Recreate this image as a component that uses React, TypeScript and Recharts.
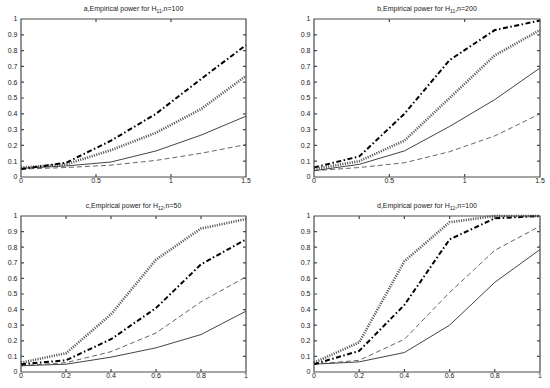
import type { FC } from 'react'
import { LineChart, Line, XAxis, YAxis } from 'recharts'

// x grids
const xWide = [0, 0.3, 0.6, 0.9, 1.2, 1.5]
const xNarrow = [0, 0.2, 0.4, 0.6, 0.8, 1]
const wideTicks = [0, 0.5, 1, 1.5]
const narrowTicks = [0, 0.2, 0.4, 0.6, 0.8, 1]
const yTicks = [0, 0.1, 0.2, 0.3, 0.4, 0.5, 0.6, 0.7, 0.8, 0.9, 1]

// a: H11, n=100
const aDashDot = [0.05, 0.09, 0.23, 0.4, 0.62, 0.835]
const aDotted = [0.06, 0.08, 0.17, 0.28, 0.43, 0.64]
const aSolid = [0.055, 0.07, 0.095, 0.165, 0.265, 0.385]
const aDashed = [0.05, 0.06, 0.075, 0.105, 0.15, 0.205]

// b: H11, n=200
const bDashDot = [0.06, 0.13, 0.4, 0.74, 0.93, 0.99]
const bDotted = [0.05, 0.1, 0.23, 0.5, 0.77, 0.93]
const bSolid = [0.04, 0.08, 0.165, 0.32, 0.49, 0.69]
const bDashed = [0.04, 0.06, 0.09, 0.16, 0.26, 0.4]

// c: H12, n=50
const cDashDot = [0.05, 0.075, 0.21, 0.41, 0.69, 0.85]
const cDotted = [0.06, 0.12, 0.37, 0.72, 0.92, 0.98]
const cSolid = [0.04, 0.05, 0.095, 0.155, 0.24, 0.39]
const cDashed = [0.04, 0.06, 0.13, 0.25, 0.45, 0.61]

// d: H12, n=100
const dDashDot = [0.05, 0.135, 0.43, 0.85, 0.985, 1.0]
const dDotted = [0.06, 0.19, 0.71, 0.96, 1.0, 1.0]
const dSolid = [0.05, 0.065, 0.125, 0.3, 0.575, 0.785]
const dDashed = [0.05, 0.075, 0.21, 0.51, 0.78, 0.935]

const FONT = '"Liberation Sans", Arial, sans-serif'
const AXIS = '#4a4a4a'

type Box = { x0: number; x1: number; y0: number; y1: number }
type PanelProps = {
  letter: string
  sub: string
  n: number
  xs: number[]
  xTicks: number[]
  xMax: number
  dashDot: number[]
  dotted: number[]
  solid: number[]
  dashed: number[]
  box: Box
}

const YW = 21
const MR = 10
const MT = 5
const XH = 14
const TICK = 3

// matlab-style box round the plot, with inward ticks on all four sides
const BoxFrame: FC<{ box: Box; xTicks: number[]; xMax: number }> = ({ box, xTicks, xMax }) => {
  const pw = box.x1 - box.x0
  const ph = box.y1 - box.y0
  let d = `M0,0 H${pw} V${ph} H0 Z`
  xTicks.slice(1, -1).forEach((t) => {
    const x = (t / xMax) * pw
    d += ` M${x},0 v${TICK} M${x},${ph} v${-TICK}`
  })
  yTicks.slice(1, -1).forEach((t) => {
    const y = ph - t * ph
    d += ` M0,${y} h${TICK} M${pw},${y} h${-TICK}`
  })
  return (
    <svg
      width={pw + 6} height={ph + 6}
      style={{ position: 'absolute', left: box.x0 - 3, top: box.y0 - 3, pointerEvents: 'none', overflow: 'visible' }}
    >
      <path d={d} transform="translate(3,3)" stroke={AXIS} strokeWidth={1.2} fill="none" />
    </svg>
  )
}

const Panel: FC<PanelProps> = ({ letter, sub, n, xs, xTicks, xMax, dashDot, dotted, solid, dashed, box }) => {
  const data = xs.map((x, i) => ({ x, dashDot: dashDot[i], dotted: dotted[i], solid: solid[i], dashed: dashed[i] }))
  const w = box.x1 - box.x0 + YW + MR
  const h = box.y1 - box.y0 + MT + XH
  const tickStyle = { fontSize: 7, fill: '#222', fontFamily: FONT }
  return (
    <>
      <div
        style={{
          position: 'absolute', left: box.x0, width: box.x1 - box.x0, top: box.y0 - 15,
          textAlign: 'center', fontSize: 7, lineHeight: '10px', fontFamily: FONT, color: '#222',
        }}
      >
        {letter},Empirical power for H<sub style={{ fontSize: 5, verticalAlign: '-2px' }}>{sub}</sub>,n={n}
      </div>
      <div style={{ position: 'absolute', left: box.x0 - YW, top: box.y0 - MT }}>
        <LineChart width={w} height={h} data={data} margin={{ top: MT, right: MR, left: 0, bottom: 0 }}>
          <XAxis
            dataKey="x" type="number" domain={[0, xMax]} ticks={xTicks} height={XH}
            axisLine={false} tickLine={false} tickSize={-3} tickMargin={4} tick={tickStyle}
            tickFormatter={(v) => String(v)} interval={0}
          />
          <YAxis
            type="number" domain={[0, 1]} ticks={yTicks} width={YW}
            axisLine={false} tickLine={false} tickSize={-3} tickMargin={6.5} tick={tickStyle}
            tickFormatter={(v) => String(v)} interval={0}
          />
          <Line dataKey="dashed" stroke="#555" strokeWidth={0.9} strokeDasharray="5 3" dot={false} isAnimationActive={false} />
          <Line dataKey="solid" stroke="#444" strokeWidth={1} dot={false} isAnimationActive={false} />
          <Line dataKey="dotted" stroke="#555" strokeWidth={2.6} strokeDasharray="1.1 1.3" dot={false} isAnimationActive={false} />
          <Line dataKey="dashDot" stroke="#000" strokeWidth={2} strokeDasharray="5 2.5 1.5 2.5" dot={false} isAnimationActive={false} />
        </LineChart>
      </div>
      <BoxFrame box={box} xTicks={xTicks} xMax={xMax} />
    </>
  )
}

export default function App() {
  return (
    <div style={{ position: 'absolute', left: 0, top: 0, width: 550, height: 388, background: '#fff', overflow: 'hidden' }}>
      <Panel letter="a" sub="11" n={100} xs={xWide} xTicks={wideTicks} xMax={1.5}
        dashDot={aDashDot} dotted={aDotted} solid={aSolid} dashed={aDashed}
        box={{ x0: 21, x1: 246, y0: 19, y1: 177 }} />
      <Panel letter="b" sub="11" n={200} xs={xWide} xTicks={wideTicks} xMax={1.5}
        dashDot={bDashDot} dotted={bDotted} solid={bSolid} dashed={bDashed}
        box={{ x0: 314, x1: 540, y0: 19, y1: 177 }} />
      <Panel letter="c" sub="12" n={50} xs={xNarrow} xTicks={narrowTicks} xMax={1}
        dashDot={cDashDot} dotted={cDotted} solid={cSolid} dashed={cDashed}
        box={{ x0: 21, x1: 246, y0: 216, y1: 372 }} />
      <Panel letter="d" sub="12" n={100} xs={xNarrow} xTicks={narrowTicks} xMax={1}
        dashDot={dDashDot} dotted={dDotted} solid={dSolid} dashed={dDashed}
        box={{ x0: 314, x1: 540, y0: 216, y1: 372 }} />
    </div>
  )
}
